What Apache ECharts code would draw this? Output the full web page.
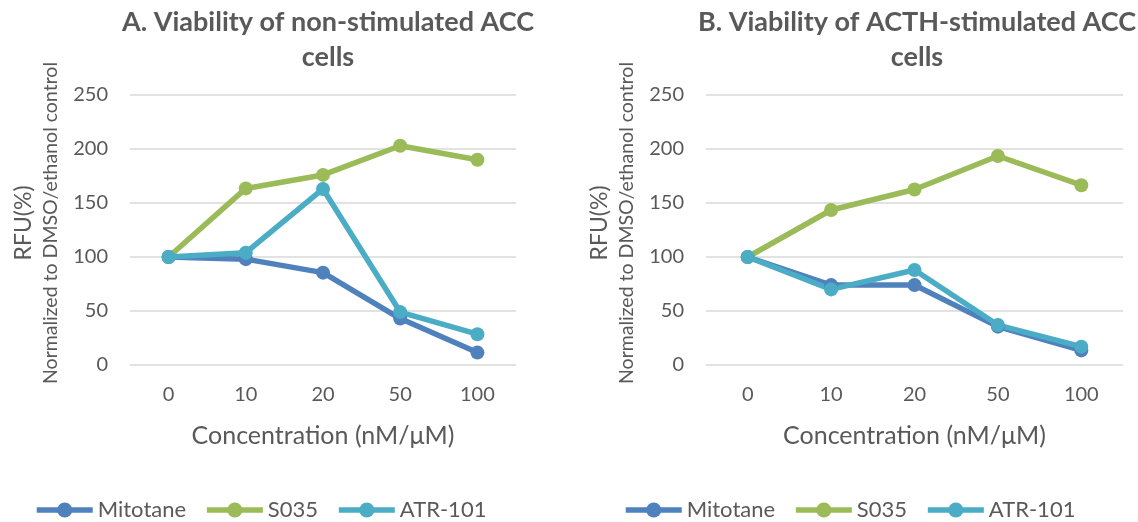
<!DOCTYPE html>
<html><head><meta charset="utf-8">
<script src="https://cdn.jsdelivr.net/npm/echarts@6/dist/echarts.min.js"></script>
<style>html,body{margin:0;padding:0;background:#fff}#c{width:1138px;height:522px}</style>
</head><body><div id="c"></div>
<script>
const categories = ['0','10','20','50','100'];
const seriesNames = ['Mitotane','S035','ATR-101'];
const mitotaneA = [100, 98, 85.5, 43, 11.5];
const s035A = [100, 163.5, 176, 203, 190];
const atrA = [100, 104, 163, 49, 28.5];
const mitotaneB = [100, 74, 74, 35.5, 13.5];
const s035B = [100, 143.5, 162.5, 193.5, 166.5];
const atrB = [100, 70, 88, 37, 17];
const titleA = 'A. Viability of non-stimulated ACC\ncells';
const titleB = 'B. Viability of ACTH-stimulated ACC\ncells';
const yName1 = 'RFU(%)';
const yName2 = 'Normalized to DMSO/ethanol control';
const xName = 'Concentration (nM/\u03bcM)';

const colors = ['#4F81BD','#9BBB59','#4BACC6'];
const FONT = 'Lato';
const TXT = '#595959';

const chart = echarts.init(document.getElementById('c'));
function xAx(i){return {type:'category',gridIndex:i,data:categories,boundaryGap:true,
  axisLine:{show:false},axisTick:{show:false},
  axisLabel:{color:TXT,fontFamily:FONT,fontSize:20,margin:20},
  name:xName,nameLocation:'middle',nameGap:58,
  nameTextStyle:{color:TXT,fontFamily:FONT,fontSize:25}};}
function yAx(i){return {type:'value',gridIndex:i,min:0,max:250,interval:50,
  axisLine:{show:false},axisTick:{show:false},
  splitLine:{lineStyle:{color:'#D9D9D9',width:1.5}},
  axisLabel:{color:TXT,fontFamily:FONT,fontSize:20,margin:22},
  name:'{a|'+yName1+'}\n{b|'+yName2+'}',nameLocation:'middle',nameRotate:90,nameGap:67,
  nameTextStyle:{padding:[0,0,0,14],rich:{a:{color:TXT,fontFamily:FONT,fontSize:23,lineHeight:31},b:{color:TXT,fontFamily:FONT,fontSize:19.5,lineHeight:24}}}};}
function ser(name,data,idx,g){return {type:'line',name:name,data:data,xAxisIndex:g,yAxisIndex:g,
  symbol:'circle',symbolSize:14,lineStyle:{width:5.5,color:colors[idx]},itemStyle:{color:colors[idx]}};}
const legendBase = {data:seriesNames,top:494,itemWidth:56,itemHeight:19,itemGap:18,
  lineStyle:{width:5.5},
  textStyle:{color:TXT,fontFamily:FONT,fontSize:22}};
chart.setOption({
  animation:false,
  color:colors,
  title:[
    {text:titleA,left:323,top:0,textAlign:'center',textStyle:{color:TXT,fontFamily:FONT,fontSize:27,fontWeight:'bold',lineHeight:35}},
    {text:titleB,left:912,top:0,textAlign:'center',textStyle:{color:TXT,fontFamily:FONT,fontSize:27,fontWeight:'bold',lineHeight:35}}
  ],
  grid:[
    {left:130,right:622,top:95,bottom:157},
    {left:706,right:15,top:95,bottom:157}
  ],
  xAxis:[xAx(0),xAx(1)],
  yAxis:[yAx(0),yAx(1)],
  legend:[
    Object.assign({},legendBase,{left:29}),
    Object.assign({},legendBase,{left:618})
  ],
  series:[
    ser(seriesNames[0],mitotaneA,0,0),ser(seriesNames[1],s035A,1,0),ser(seriesNames[2],atrA,2,0),
    ser(seriesNames[0],mitotaneB,0,1),ser(seriesNames[1],s035B,1,1),ser(seriesNames[2],atrB,2,1)
  ]
});
</script></body></html>
